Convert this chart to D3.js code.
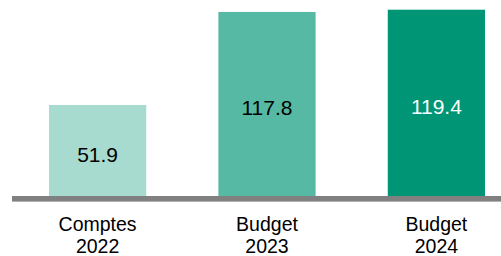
<!DOCTYPE html>
<html>
<head>
<meta charset="utf-8">
<script src="https://cdn.jsdelivr.net/npm/d3@7"></script>
<style>
  html, body { margin: 0; padding: 0; background: #fff; }
  svg { display: block; font-family: "Liberation Sans", Arial, sans-serif; }
</style>
</head>
<body>
<div id="chart"></div>
<script>
// data
var categories = ["Comptes 2022", "Budget 2023", "Budget 2024"];
var catLines = [["Comptes", "2022"], ["Budget", "2023"], ["Budget", "2024"]];
var values = [51.9, 117.8, 119.4];
var barColors = ["#a8dbd0", "#55b9a3", "#009675"];
var labelColors = ["#000000", "#000000", "#ffffff"];

var w = 501, h = 256;

var svg = d3.select("#chart").append("svg")
  .attr("width", w).attr("height", h);

var x = d3.scaleBand()
  .domain(categories)
  .range([49, 485])
  .paddingInner(0.426)
  .paddingOuter(0);

// axis baseline is below zero in the original chart
var y = d3.scaleLinear()
  .domain([-16, 125])
  .range([200.8, 1.8]);

var data = categories.map(function (c, i) {
  return { cat: c, value: values[i], color: barColors[i], lc: labelColors[i], lines: catLines[i] };
});

svg.selectAll(".bar").data(data).enter().append("rect")
  .attr("class", "bar")
  .attr("x", function (d) { return x(d.cat); })
  .attr("width", x.bandwidth())
  .attr("y", function (d) { return y(d.value); })
  .attr("height", function (d) { return y.range()[0] - y(d.value); })
  .attr("fill", function (d) { return d.color; });

svg.selectAll(".val").data(data).enter().append("text")
  .attr("class", "val")
  .attr("x", function (d) { return x(d.cat) + x.bandwidth() / 2; })
  .attr("y", function (d) { return (y(d.value) + y.range()[0]) / 2; })
  .attr("dy", "0.42em")
  .attr("text-anchor", "middle")
  .style("font-size", "21px")
  .attr("fill", function (d) { return d.lc; })
  .text(function (d) { return d.value.toFixed(1); });

// axis line
svg.append("rect")
  .attr("x", 12).attr("y", 196)
  .attr("width", w - 12).attr("height", 5.6)
  .attr("fill", "#808080");

var cl = svg.selectAll(".cat").data(data).enter().append("text")
  .attr("class", "cat")
  .attr("text-anchor", "middle")
  .style("font-size", "19.5px")
  .attr("fill", "#000");

cl.selectAll("tspan").data(function (d) {
    return d.lines.map(function (l) { return { t: l, cx: x(d.cat) + x.bandwidth() / 2 }; });
  }).enter().append("tspan")
  .attr("x", function (d) { return d.cx; })
  .attr("y", function (d, i) { return 231 + i * 22; })
  .text(function (d) { return d.t; });
</script>
</body>
</html>
